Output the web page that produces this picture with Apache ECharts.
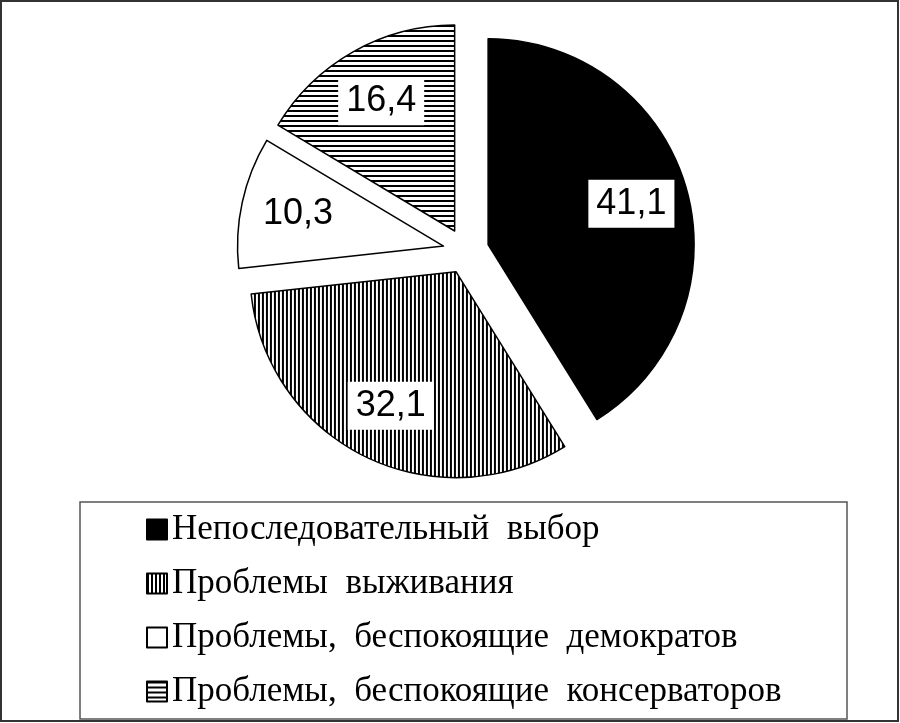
<!DOCTYPE html>
<html>
<head>
<meta charset="utf-8">
<script src="https://cdn.jsdelivr.net/npm/echarts@6/dist/echarts.min.js"></script>
<style>
html,body{margin:0;padding:0;background:#fff;}
#chart{width:900px;height:723px;}
</style>
</head>
<body>
<div id="chart"></div>
<script>
var categories = ['Непоследовательный выбор', 'Проблемы выживания', 'Проблемы, беспокоящие демократов', 'Проблемы, беспокоящие консерваторов'];
var values = [41.1, 32.1, 10.3, 16.4];

// stripe fills
function stripes(vertical, period, thick) {
    var c = document.createElement('canvas');
    c.width = period; c.height = period;
    var g = c.getContext('2d');
    g.fillStyle = '#fff';
    g.fillRect(0, 0, period, period);
    g.fillStyle = '#000';
    if (vertical) g.fillRect(0, 0, thick, period);
    else g.fillRect(0, 0, period, thick);
    return c;
}
var fills = [
    '#000',
    { image: stripes(true, 4, 2), repeat: 'repeat' },
    '#fff',
    { image: stripes(false, 5, 2), repeat: 'repeat' }
];

var sliceData = categories.map(function (name, i) {
    return {
        name: name, value: values[i], selected: true,
        itemStyle: { color: fills[i] }
    };
});
var labelData = categories.map(function (name, i) {
    return { name: name, value: values[i], selected: true };
});

var chart = echarts.init(document.getElementById('chart'));
var option = {
    animation: false,
    backgroundColor: '#fff',
    legend: {
        orient: 'vertical',
        left: 146,
        top: 512,
        padding: 0,
        icon: 'rect',
        itemWidth: 20,
        itemHeight: 20,
        itemGap: 19,
        itemTextGap: 6,
        selectedMode: false,
        data: categories,
        formatter: function (name) { return name.replace(/ /g, '  '); },
        textStyle: { fontFamily: 'Liberation Serif', fontSize: 35, color: '#000' }
    },
    graphic: [
        { type: 'rect', shape: { x: 1, y: 1, width: 897, height: 720 }, style: { fill: null, stroke: '#333', lineWidth: 2 } },
        { type: 'rect', shape: { x: 80, y: 502, width: 767, height: 217 }, style: { fill: null, stroke: '#555', lineWidth: 1.5 } }
    ],
    series: [
        {
            type: 'pie',
            center: [466, 251],
            radius: [0, 206],
            startAngle: 90,
            selectedMode: 'multiple',
            selectedOffset: 23,
            silent: true,
            label: { show: false },
            labelLine: { show: false },
            itemStyle: { borderColor: '#000', borderWidth: 1.5 },
            emphasis: { disabled: true },
            data: sliceData
        },
        {
            type: 'pie',
            center: [466, 251],
            radius: [86, 206],
            startAngle: 90,
            selectedMode: 'multiple',
            selectedOffset: 23,
            silent: true,
            avoidLabelOverlap: false,
            itemStyle: { color: 'rgba(0,0,0,0)', borderWidth: 0 },
            emphasis: { disabled: true },
            labelLine: { show: false },
            label: {
                show: true,
                position: 'inside',
                fontFamily: 'Liberation Sans',
                fontSize: 36,
                color: '#000',
                backgroundColor: '#fff',
                lineHeight: 38,
                padding: [5, 8],
                formatter: function (p) { return String(p.value).replace('.', ','); }
            },
            data: labelData
        }
    ]
};
chart.setOption(option);
</script>
</body>
</html>
